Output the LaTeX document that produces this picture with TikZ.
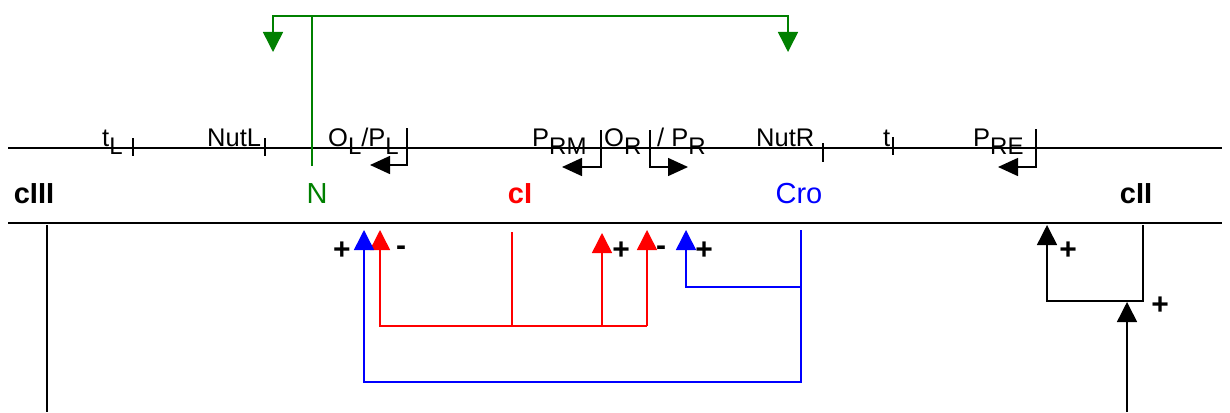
\documentclass[tikz,border=0pt]{standalone}
\usepackage{fontspec}
\setmainfont{Liberation Sans}
\usetikzlibrary{arrows.meta}
\definecolor{ggreen}{RGB}{0,128,0}
\newcommand{\dsub}[1]{\raisebox{-8pt}{\fontsize{24}{26}\selectfont #1}}
\begin{document}
\begin{tikzpicture}[x=1pt,y=-1pt,
  toplbl/.style={font=\fontsize{25.5}{28}\selectfont, inner sep=0pt, anchor=base west},
  midlbl/.style={font=\fontsize{29}{32}\selectfont, inner sep=0pt, anchor=base},
  sign/.style={font=\bfseries\fontsize{30}{32}\selectfont, inner sep=0pt},
  dna/.style={line width=2pt},
  wire/.style={line width=1.5pt},
  tip/.style={-{Triangle[length=20pt,width=20pt]}},
  ptip/.style={-{Triangle[length=20pt,width=18pt]}},
]
\useasboundingbox (0,0) rectangle (1230,412);

% DNA lines
\coordinate (tl1) at (8,148);   \coordinate (tl2) at (1222,148);
\coordinate (bl1) at (8,223);   \coordinate (bl2) at (1222,223);
\draw[dna] (tl1) -- (tl2);
\draw[dna] (bl1) -- (bl2);

% top labels
\node[toplbl] (tL) at (102,146) {t\dsub{L}};
\node[toplbl] (nutL) at (207,146) {NutL};
\node[toplbl] (olpl) at (328,146) {O\dsub{L}/P\dsub{L}};
\node[toplbl] (prm) at (532,146) {P\dsub{RM}};
\node[toplbl] (or) at (604,146) {O\dsub{R}};
\node[toplbl] (pr) at (657,146) {/ P\dsub{R}};
\node[toplbl] (nutR) at (756,146) {NutR};
\node[toplbl] (tR) at (883,146) {t};
\node[toplbl] (pre) at (973,146) {P\dsub{RE}};

% ticks
\draw[wire] (133,138) -- (133,156);
\draw[wire] (265,138) -- (265,156);
\draw[wire] (823,143) -- (823,162);
\draw[wire] (893,137) -- (893,155);

% promoter arrows
\coordinate (pl0) at (407,128); \coordinate (pl1) at (370,165);
\draw[wire,ptip] (pl0) |- (pl1);
\coordinate (prm0) at (601,130); \coordinate (prm1) at (562,167);
\draw[wire,ptip] (prm0) |- (prm1);
\coordinate (pr0) at (650,130); \coordinate (pr1) at (688,167);
\draw[wire,ptip] (pr0) |- (pr1);
\coordinate (pre0) at (1036,129); \coordinate (pre1) at (998,167);
\draw[wire,ptip] (pre0) |- (pre1);

% middle labels
\node[midlbl,font=\bfseries\fontsize{29}{32}\selectfont] (cIII) at (34,203) {cIII};
\node[midlbl,text=ggreen] (N) at (317,203) {N};
\node[midlbl,text=red,font=\bfseries\fontsize{29}{32}\selectfont] (cI) at (520,203) {cI};
\node[midlbl,text=blue] (Cro) at (799,203) {Cro};
\node[midlbl,font=\bfseries\fontsize{29}{32}\selectfont] (cII) at (1136,203) {cII};

% green N regulation
\coordinate (n0) at (312,166); \coordinate (n1) at (312,16);
\coordinate (nL) at (273,52);  \coordinate (nR) at (788,52);
\draw[wire,ggreen] (n0) -- (n1);
\draw[wire,ggreen,tip] (n1) -| (nL);
\draw[wire,ggreen,tip] (n1) -| (nR);

% red cI regulation
\coordinate (c0) at (512,232); \coordinate (c1) at (512,326);
\coordinate (cL) at (380,230); \coordinate (cE) at (647,326);
\coordinate (cM0) at (602,326); \coordinate (cM) at (602,233);
\coordinate (cR) at (647,230);
\draw[wire,red,tip] (c0) -- (c1) -| (cL);
\draw[wire,red] (c1) -- (cE);
\draw[wire,red,tip] (cM0) -- (cM);
\draw[wire,red,tip] (cE) -- (cR);

% blue Cro regulation
\coordinate (r0) at (801,230); \coordinate (r1) at (801,382);
\coordinate (rL) at (364,230); \coordinate (r2) at (801,287);
\coordinate (rR) at (686,230);
\draw[wire,blue,tip] (r0) -- (r1) -| (rL);
\draw[wire,blue,tip] (r2) -| (rR);

% black cII / cIII
\coordinate (k0) at (1143,225); \coordinate (k1) at (1143,301);
\coordinate (kL) at (1047,225);
\coordinate (m0) at (1127,412); \coordinate (m1) at (1127,302);
\draw[wire,tip] (k0) -- (k1) -| (kL);
\draw[wire,tip] (m0) -- (m1);
\coordinate (z0) at (47,225); \coordinate (z1) at (47,412);
\draw[wire] (z0) -- (z1);

% signs
\node[sign] (s1) at (342,251) {+};
\node[sign] (s2) at (401,251) {-};
\node[sign] (s3) at (621,251) {+};
\node[sign] (s4) at (661,251) {-};
\node[sign] (s5) at (704,251) {+};
\node[sign] (s6) at (1068,251) {+};
\node[sign] (s7) at (1160,306) {+};
\end{tikzpicture}
\end{document}
